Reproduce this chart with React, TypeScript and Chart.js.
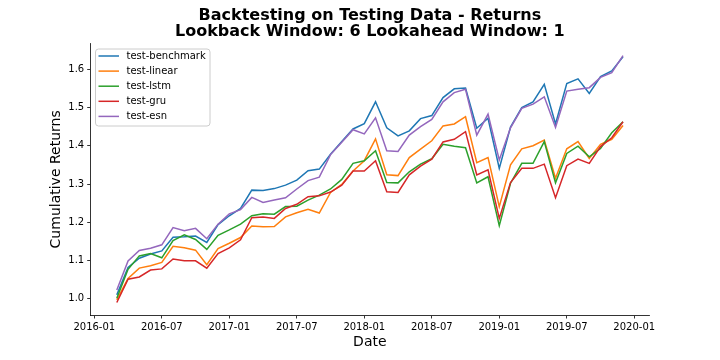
import React, { useEffect, useRef } from 'react';
import { Chart, registerables } from 'chart.js';

Chart.register(...registerables);

const TITLE_LINES = ['Backtesting on Testing Data - Returns', 'Lookback Window: 6 Lookahead Window: 1'];
const X_TITLE = 'Date';
const Y_TITLE = 'Cumulative Returns';

const DATES = [
  '2016-03', '2016-04', '2016-05', '2016-06', '2016-07', '2016-08', '2016-09', '2016-10', '2016-11', '2016-12',
  '2017-01', '2017-02', '2017-03', '2017-04', '2017-05', '2017-06', '2017-07', '2017-08', '2017-09', '2017-10', '2017-11', '2017-12',
  '2018-01', '2018-02', '2018-03', '2018-04', '2018-05', '2018-06', '2018-07', '2018-08', '2018-09', '2018-10', '2018-11', '2018-12',
  '2019-01', '2019-02', '2019-03', '2019-04', '2019-05', '2019-06', '2019-07', '2019-08', '2019-09', '2019-10', '2019-11', '2019-12',
];

const BENCHMARK = [
  1.010, 1.082, 1.106, 1.117, 1.125, 1.161, 1.162, 1.164, 1.147, 1.194,
  1.217, 1.236, 1.284, 1.283, 1.288, 1.297, 1.310, 1.335, 1.339, 1.378, 1.411, 1.444,
  1.458, 1.515, 1.447, 1.426, 1.439, 1.471, 1.479, 1.526, 1.549, 1.551, 1.446, 1.472,
  1.341, 1.449, 1.500, 1.515, 1.561, 1.457, 1.563, 1.575, 1.537, 1.581, 1.596, 1.633,
];
const LINEAR = [
  0.997, 1.053, 1.080, 1.086, 1.095, 1.137, 1.133, 1.127, 1.089, 1.131,
  1.145, 1.160, 1.190, 1.188, 1.189, 1.214, 1.225, 1.234, 1.224, 1.278, 1.299, 1.334,
  1.361, 1.418, 1.324, 1.322, 1.369, 1.391, 1.413, 1.452, 1.457, 1.476, 1.356, 1.369,
  1.241, 1.350, 1.392, 1.400, 1.415, 1.315, 1.392, 1.411, 1.367, 1.404, 1.417, 1.453,
];
const LSTM = [
  1.001, 1.077, 1.112, 1.118, 1.107, 1.152, 1.167, 1.155, 1.129, 1.166,
  1.180, 1.195, 1.217, 1.222, 1.221, 1.241, 1.242, 1.258, 1.271, 1.287, 1.312, 1.354,
  1.361, 1.387, 1.304, 1.303, 1.332, 1.352, 1.366, 1.404, 1.399, 1.395, 1.303, 1.319,
  1.191, 1.302, 1.354, 1.354, 1.411, 1.303, 1.380, 1.399, 1.371, 1.393, 1.434, 1.463,
];
const GRU = [
  0.990, 1.051, 1.057, 1.075, 1.078, 1.104, 1.099, 1.099, 1.080, 1.118,
  1.133, 1.154, 1.212, 1.214, 1.210, 1.236, 1.247, 1.267, 1.269, 1.279, 1.297, 1.334,
  1.334, 1.361, 1.280, 1.278, 1.324, 1.347, 1.365, 1.410, 1.417, 1.437, 1.324, 1.337,
  1.210, 1.304, 1.341, 1.341, 1.352, 1.264, 1.348, 1.365, 1.354, 1.398, 1.421, 1.463,
];
const ESN = [
  1.023, 1.099, 1.126, 1.132, 1.141, 1.186, 1.178, 1.184, 1.157, 1.195,
  1.222, 1.233, 1.265, 1.252, 1.258, 1.264, 1.287, 1.309, 1.318, 1.377, 1.409, 1.442,
  1.431, 1.473, 1.387, 1.385, 1.428, 1.450, 1.469, 1.515, 1.539, 1.548, 1.428, 1.483,
  1.363, 1.447, 1.498, 1.509, 1.528, 1.448, 1.543, 1.548, 1.552, 1.579, 1.591, 1.636,
];

const SERIES_NAMES = ['test-benchmark', 'test-linear', 'test-lstm', 'test-gru', 'test-esn'];
const SERIES_VALUES = [BENCHMARK, LINEAR, LSTM, GRU, ESN];
const SERIES_COLORS = ['#1f77b4', '#ff7f0e', '#2ca02c', '#d62728', '#9467bd'];

const X_TICK_LABELS = ['2016-01', '2016-07', '2017-01', '2017-07', '2018-01', '2018-07', '2019-01', '2019-07', '2020-01'];
const Y_TICK_VALUES = [1.0, 1.1, 1.2, 1.3, 1.4, 1.5, 1.6];

const FONT = '"DejaVu Sans", sans-serif';

function monthIndex(s: string): number {
  const [y, m] = s.split('-').map(Number);
  return (y - 2016) * 12 + (m - 1);
}
function monthLabel(v: number): string {
  const y = 2016 + Math.floor(v / 12);
  const m = (v % 12) + 1;
  return `${y}-${m < 10 ? '0' + m : m}`;
}

const decorPlugin = {
  id: 'decor',
  afterDraw(chart: any) {
    const { ctx, chartArea } = chart;
    ctx.save();
    // Title
    ctx.fillStyle = '#000';
    ctx.textAlign = 'center';
    ctx.textBaseline = 'middle';
    ctx.font = `bold 16px ${FONT}`;
    const cx = (chartArea.left + chartArea.right) / 2;
    ctx.fillText(TITLE_LINES[0], cx, 15.5);
    ctx.fillText(TITLE_LINES[1], cx, 31.5);
    // Axis titles
    ctx.font = `14px ${FONT}`;
    ctx.fillText(X_TITLE, cx, 342);
    ctx.save();
    ctx.translate(56, (chartArea.top + chartArea.bottom) / 2);
    ctx.rotate(-Math.PI / 2);
    ctx.fillText(Y_TITLE, 0, 0);
    ctx.restore();
    // Legend
    const lx = 95.5, ly = 49, lw = 114.5, lh = 77, r = 3;
    ctx.beginPath();
    ctx.moveTo(lx + r, ly);
    ctx.lineTo(lx + lw - r, ly);
    ctx.arcTo(lx + lw, ly, lx + lw, ly + r, r);
    ctx.lineTo(lx + lw, ly + lh - r);
    ctx.arcTo(lx + lw, ly + lh, lx + lw - r, ly + lh, r);
    ctx.lineTo(lx + r, ly + lh);
    ctx.arcTo(lx, ly + lh, lx, ly + lh - r, r);
    ctx.lineTo(lx, ly + r);
    ctx.arcTo(lx, ly, lx + r, ly, r);
    ctx.closePath();
    ctx.fillStyle = 'rgba(255,255,255,0.8)';
    ctx.fill();
    ctx.strokeStyle = '#cccccc';
    ctx.lineWidth = 1;
    ctx.stroke();
    ctx.font = `10px ${FONT}`;
    ctx.textAlign = 'left';
    chart.data.datasets.forEach((ds: any, i: number) => {
      const y = 56 + i * 15.1;
      ctx.strokeStyle = ds.borderColor;
      ctx.lineWidth = 1.5;
      ctx.beginPath();
      ctx.moveTo(98.5, y);
      ctx.lineTo(119, y);
      ctx.stroke();
      ctx.fillStyle = '#000';
      ctx.fillText(ds.label, 126.5, y);
    });
    ctx.restore();
  },
};

export default function App() {
  const canvasRef = useRef<HTMLCanvasElement | null>(null);

  useEffect(() => {
    const canvas = canvasRef.current;
    if (!canvas) return;
    const xs = DATES.map(monthIndex);
    const datasets = SERIES_NAMES.map((name, i) => ({
      label: name,
      data: SERIES_VALUES[i].map((v, j) => ({ x: xs[j], y: v })),
      borderColor: SERIES_COLORS[i],
      backgroundColor: SERIES_COLORS[i],
      borderWidth: 1.5,
      pointRadius: 0,
      tension: 0,
      fill: false,
      order: SERIES_NAMES.length - i,
    }));

    const chart = new Chart(canvas, {
      type: 'line',
      data: { datasets },
      options: {
        animation: false,
        responsive: false,
        maintainAspectRatio: false,
        devicePixelRatio: 1,
        layout: { padding: { left: 0, right: 71, top: 43.7, bottom: 0 } },
        plugins: {
          legend: { display: false },
          title: { display: false },
          tooltip: { enabled: false },
        },
        scales: {
          x: {
            type: 'linear',
            min: -0.32,
            max: 49.31,
            border: { display: true, color: '#000', width: 0.8 },
            grid: { display: true, drawOnChartArea: false, drawTicks: true, tickLength: 3.5, color: '#000', lineWidth: 0.8 },
            ticks: {
              autoSkip: false,
              maxRotation: 0,
              minRotation: 0,
              padding: 3,
              color: '#000',
              font: { family: FONT, size: 10 },
              callback: (v: any) => monthLabel(Number(v)),
            },
            afterBuildTicks: (scale: any) => {
              scale.ticks = X_TICK_LABELS.map((s) => ({ value: monthIndex(s) }));
            },
            afterFit: (scale: any) => {
              scale.height = 45;
              scale.paddingLeft = 0;
              scale.paddingRight = 0;
            },
          },
          y: {
            type: 'linear',
            min: 0.9574,
            max: 1.667,
            border: { display: true, color: '#000', width: 0.8 },
            grid: { display: true, drawOnChartArea: false, drawTicks: true, tickLength: 3.5, color: '#000', lineWidth: 0.8 },
            ticks: {
              padding: 3,
              color: '#000',
              font: { family: FONT, size: 10 },
              callback: (v: any) => Number(v).toFixed(1),
            },
            afterBuildTicks: (scale: any) => {
              scale.ticks = Y_TICK_VALUES.map((v) => ({ value: v }));
            },
            afterFit: (scale: any) => {
              scale.width = 90.7;
              scale.paddingTop = 0;
              scale.paddingBottom = 0;
            },
          },
        },
      },
      plugins: [decorPlugin],
    });
    return () => chart.destroy();
  }, []);

  return (
    <div style={{ position: 'fixed', left: 0, top: 0, width: 720, height: 360, background: '#fff' }}>
      <canvas ref={canvasRef} width={720} height={360} style={{ display: 'block', width: 720, height: 360 }} />
    </div>
  );
}
